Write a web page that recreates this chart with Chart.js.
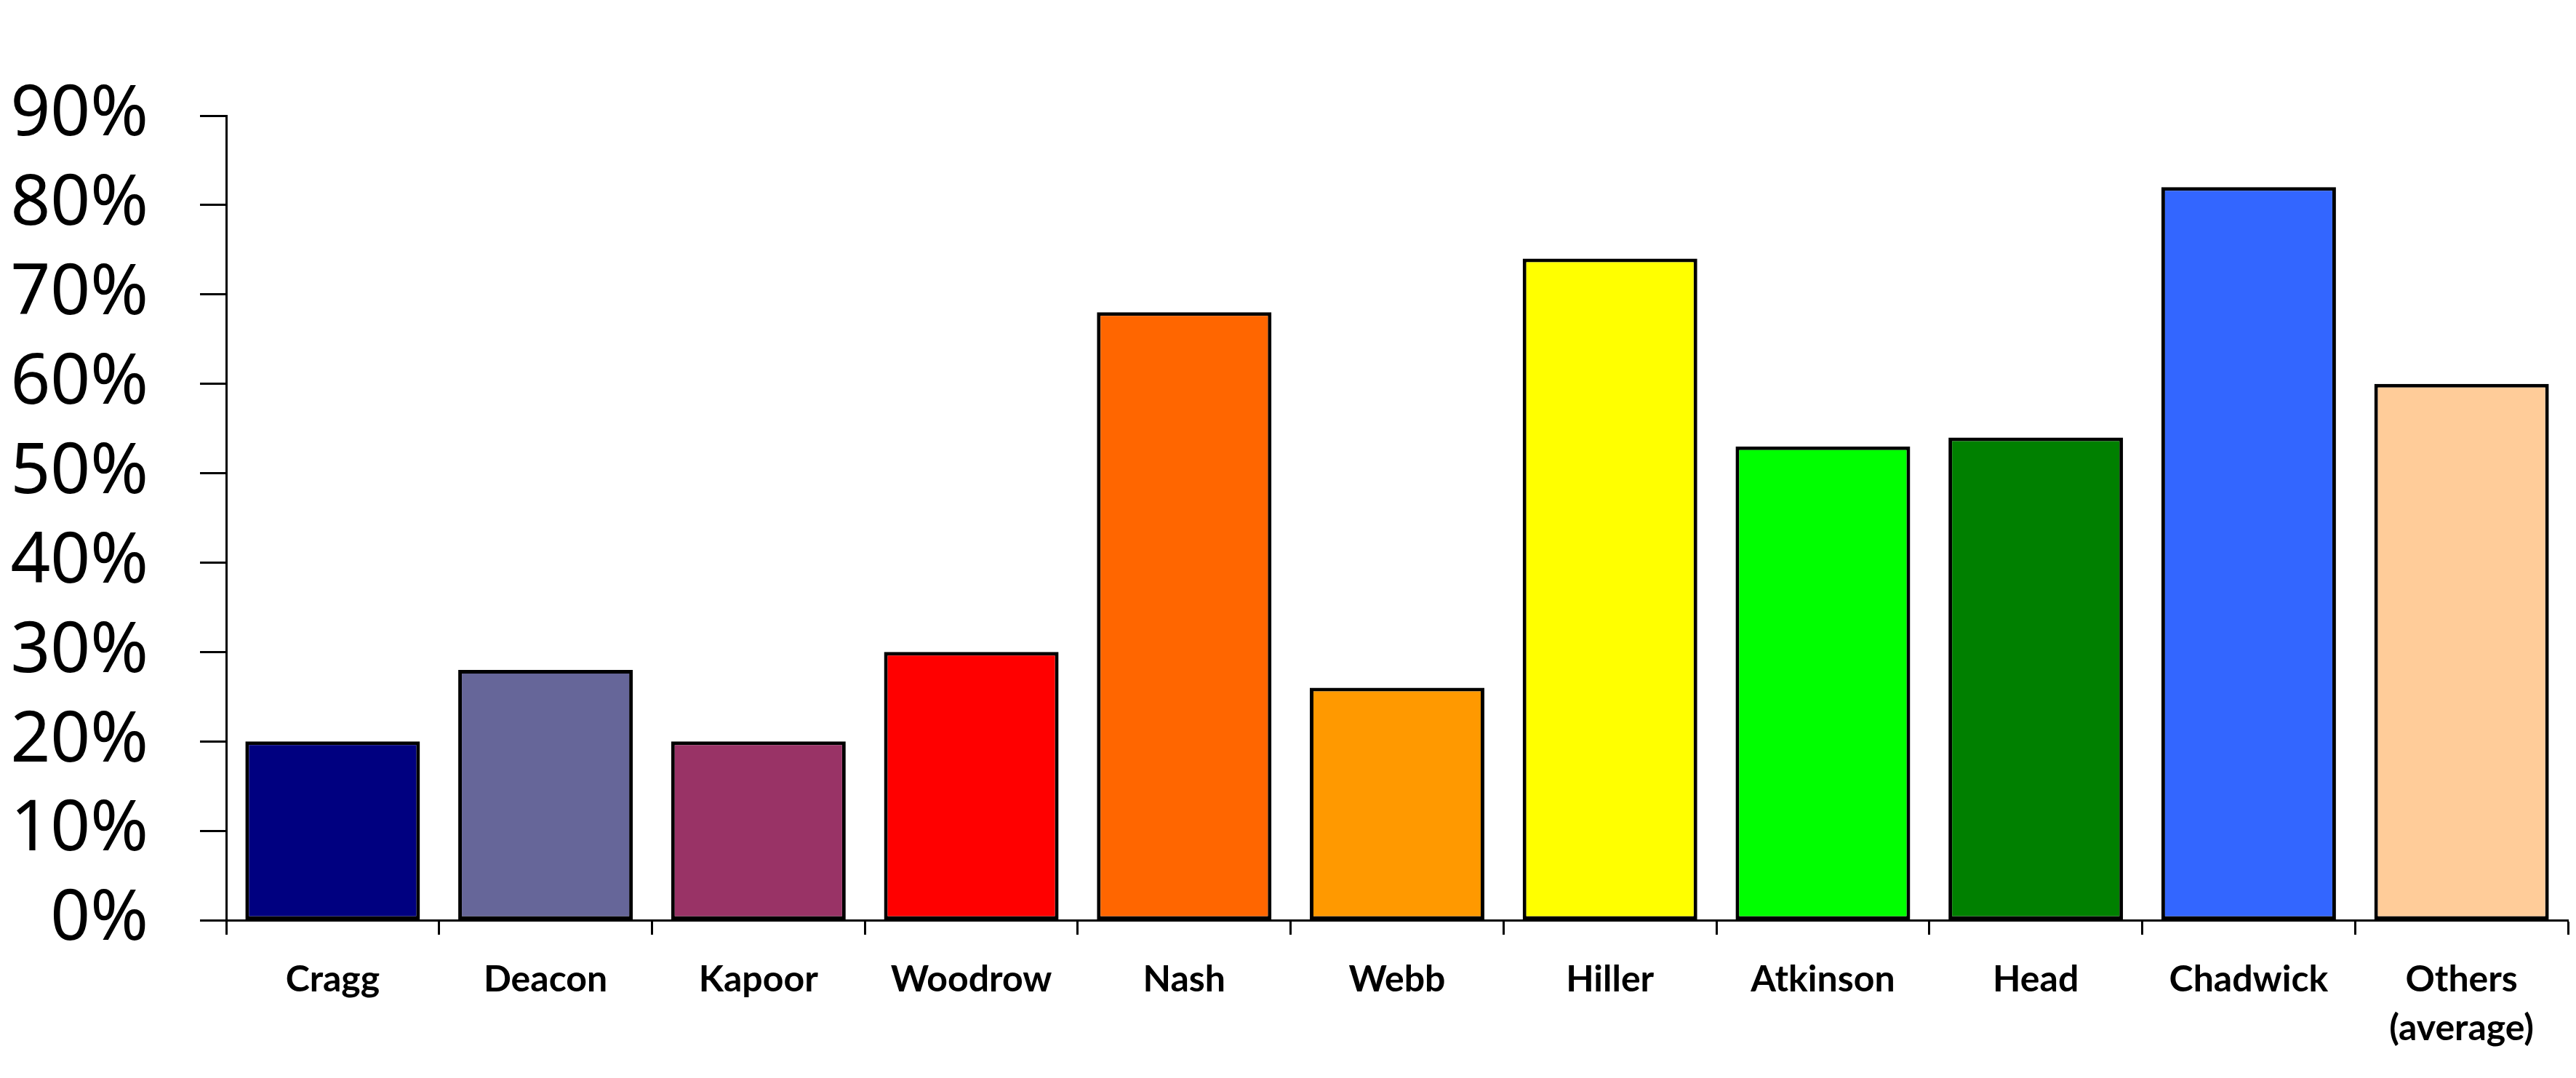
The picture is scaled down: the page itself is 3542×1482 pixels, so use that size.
<!DOCTYPE html>
<html>
<head>
<meta charset="utf-8">
<script src="https://cdn.jsdelivr.net/npm/chart.js@4.4.1/dist/chart.umd.min.js"></script>
<style>
    html, body { margin: 0; padding: 0; background: #ffffff; }
    canvas { display: block; }
</style>
</head>
<body>
<canvas id="chart" width="3542" height="1482"></canvas>
<script>
// names along the x axis ("Others (average)" wraps onto two lines)
const categories = [`Cragg`, `Deacon`, `Kapoor`, `Woodrow`, `Nash`, `Webb`,
    `Hiller`, `Atkinson`, `Head`, `Chadwick`, [`Others`, `(average)`]];

// percentages
const shares = [20, 28, 20, 30, 68, 26, 74, 53, 54, 82, 60];

const barColors = [`#000080`, `#666699`, `#993366`, `#ff0000`, `#ff6600`, `#ff9900`,
    `#ffff00`, `#00ff00`, `#008000`, `#3366ff`, `#ffcc99`];

const yMin = 0;
const yMax = 90;
const yStep = 10;


const chart = new Chart(document.getElementById(`chart`), {
    type: `bar`,
    data: {
        labels: categories,
        datasets: [
            {
                data: shares,
                backgroundColor: barColors,
                borderColor: `#000000`,
                borderWidth: 5,
                borderSkipped: false,
                barPercentage: 0.82,
                categoryPercentage: 1,
            },
        ],
    },
    options: {
        responsive: false,
        animation: false,
        devicePixelRatio: 1,
        layout: {
            padding: { top: 159, right: 11, bottom: 0, left: 0 },
        },
        plugins: {
            legend: { display: false },
            tooltip: { enabled: false },
        },
        scales: {
            x: {
                grid: {
                    offset: true,
                    drawOnChartArea: false,
                    drawTicks: true,
                    tickLength: 20,
                    tickColor: `#000000`,
                    tickWidth: 3,
                },
                border: { display: true, color: `#000000`, width: 3 },
                ticks: {
                    color: `#000000`,
                    padding: 28,
                    maxRotation: 0,
                    autoSkip: false,
                    font: { family: `Lato`, weight: `bold`, size: 50, lineHeight: 1.35 },
                },
                afterFit: scale => {
                    scale.height = 217;
                },
            },
            y: {
                min: yMin,
                max: yMax,
                grid: {
                    drawOnChartArea: false,
                    drawTicks: true,
                    tickLength: 36,
                    tickColor: `#000000`,
                    tickWidth: 3,
                },
                border: { display: true, color: `#000000`, width: 3 },
                ticks: {
                    stepSize: yStep,
                    autoSkip: false,
                    color: `#000000`,
                    padding: 71,
                    font: { family: `Noto Sans`, size: 96, lineHeight: 1 },
                    callback: value => `${value}%`,
                },
                afterFit: scale => {
                    scale.width = 311;
                },
            },
        },
    },
});
</script>
</body>
</html>
